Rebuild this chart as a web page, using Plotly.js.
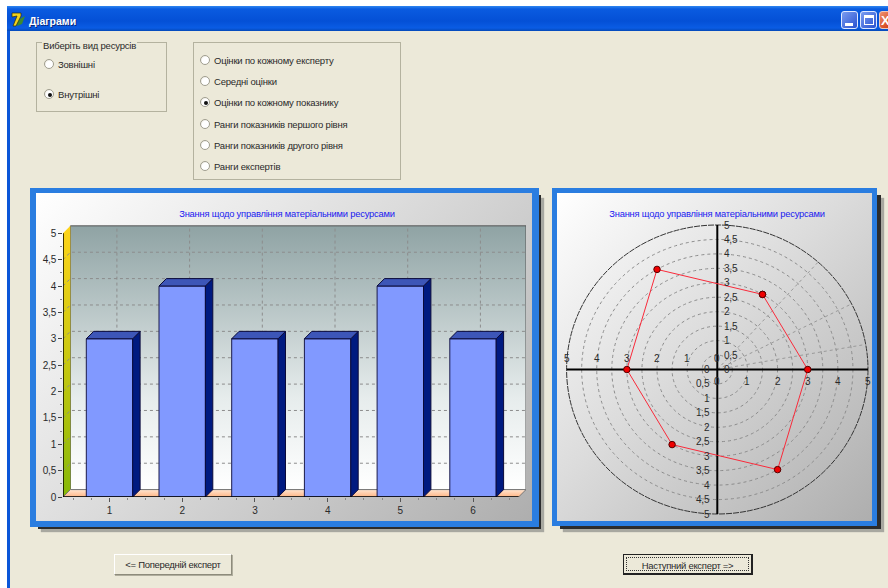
<!DOCTYPE html>
<html lang="uk">
<head>
<meta charset="utf-8">
<title>Діаграми</title>
<script src="https://cdn.plot.ly/plotly-3.0.1.min.js"></script>
<style>
  html, body { margin: 0; padding: 0; width: 888px; height: 588px; overflow: hidden; background: #fff;
               font-family: "Liberation Sans", Arial, sans-serif; font-size: 9.5px; letter-spacing: -0.2px; color: #2a2a2a; }
  .abs { position: absolute; box-sizing: border-box; }
  #win { left: 7px; top: 6px; width: 881px; height: 582px; background: #0a56d8; }
  #client { left: 10px; top: 31px; width: 878px; height: 557px; background: #ece9d9; }
  #bar { left: 7px; top: 6px; width: 881px; height: 25px;
         background: linear-gradient(#2f86f0 0, #0a5be0 12%, #0450d6 60%, #0a5ce4 88%, #0448b8 100%); }
  #caption { left: 29px; top: 15px; color: #fff; font-weight: bold; font-size: 10.5px; letter-spacing: 0; text-shadow: 1px 1px 0 #0a2a80; }
  #logo { left: 11px; top: 12px; }
  .cap { width: 17px; height: 18px; top: 11px; border: 1px solid #dfe8ff; border-radius: 3px;
         background: linear-gradient(135deg, #7a9cf0, #2a52d0); }
  .group { border: 1px solid #b4b29f; background: #ece9d9; }
  .legend { background: #ece9d9; padding: 0 1px; line-height: 11px; white-space: nowrap; }
  .radio { width: 10px; height: 10px; border-radius: 50%; border: 1px solid #a09e90;
           background: radial-gradient(circle at 65% 65%, #fff 55%, #dcd8c8); }
  .radio.on::after { content: ""; position: absolute; left: 2.5px; top: 2.5px; width: 4px; height: 4px;
                     border-radius: 50%; background: #111; }
  .rlabel { white-space: nowrap; line-height: 12px; }
  .shadow { background: #2c2c2c; box-shadow: 3px 3px 1px #a8a8a0; }
  .frame { background: #2a7de0; }
  .face { background: linear-gradient(135deg, #ffffff 0%, #dcdcdc 45%, #aeaeae 100%); }
  .plot { position: absolute; }
  .btn { height: 21px; text-align: center; line-height: 20px; background: #ece9d9; white-space: nowrap; letter-spacing: -0.3px;
         border: 1px solid #fff; border-right-color: #8d8b7c; border-bottom-color: #8d8b7c;
         box-shadow: 1px 1px 0 #b0ae9e; }
  .btn.focus { border: 1px solid #222; border-right-width: 2px; border-bottom-width: 2px; box-shadow: none; }
  .btn.focus span { position: absolute; inset: 2px; line-height: 15px; border: 1px dotted #333; }
</style>
</head>
<body>
<div id="win" class="abs"></div>
<div id="bar" class="abs"></div>
<svg id="logo" class="abs" width="16" height="16" viewBox="0 0 16 16">
  <polygon points="7,8 14,4 11,12 6,14" fill="#3c8a30"/>
  <polygon points="1,1 10,1 10,4 5,14 2,14 6,4 1,5" fill="#f2d21c" stroke="#2a2a10" stroke-width="0.7"/>
</svg>
<div id="caption" class="abs">Діаграми</div>
<div class="abs cap" style="left:841px"></div>
<div class="abs" style="left:845px;top:23px;width:8px;height:3px;background:#fff"></div>
<div class="abs cap" style="left:860px"></div>
<div class="abs" style="left:864px;top:15px;width:10px;height:10px;border:1px solid #fff;border-top-width:3px"></div>
<div class="abs cap" style="left:879px;width:12px;border-color:#f0c8b8;background:linear-gradient(135deg,#f09070,#d03c10)"></div>
<div class="abs" style="left:881px;top:14px;color:#fff;font-size:13px;font-weight:bold;line-height:13px">X</div>
<div id="client" class="abs"></div>
<div id="ui"></div>

<div class="abs shadow" style="left:38px;top:195px;width:503px;height:334px"></div>
<div class="abs frame" style="left:30px;top:188px;width:509px;height:339px"></div>
<div class="abs face" style="left:36px;top:193px;width:496px;height:328px"></div>
<div id="barChart" class="plot" style="left:36px;top:193px;width:496px;height:328px"></div>

<div class="abs shadow" style="left:560px;top:195px;width:321px;height:334px"></div>
<div class="abs frame" style="left:552px;top:188px;width:325px;height:338px"></div>
<div class="abs face" style="left:557px;top:193px;width:315px;height:328px"></div>
<div id="polarChart" class="plot" style="left:557px;top:193px;width:315px;height:328px"></div>

<script>
// Form contents
const resourceOptions = ['Зовнішні', 'Внутрішні'];
const resourceRows = [64, 94];
const resourceChecked = 1;
const viewOptions = ['Оцінки по кожному експерту', 'Середні оцінки', 'Оцінки по кожному показнику',
                     'Ранги показників першого рівня', 'Ранги показників другого рівня', 'Ранги експертів'];
const viewRows = [60, 81, 102, 124, 145, 166];
const viewChecked = 2;

// Chart data
const chartTitle = 'Знання щодо управління матеріальними ресурсами';
const categories = [1, 2, 3, 4, 5, 6];
const scores = [3, 4, 3, 3, 4, 3];
const spokeAngles = [60, 120, 180, 240, 300, 360];
const scaleValues = [0, 0.5, 1, 1.5, 2, 2.5, 3, 3.5, 4, 4.5, 5];
const scaleLabels = ['0', '0,5', '1', '1,5', '2', '2,5', '3', '3,5', '4', '4,5', '5'];
const radialValues = [0, 1, 2, 3, 4, 5];
const gridAngles = [10, 27, 48];

const FONT = 'Liberation Sans, Arial, sans-serif';
const ink = '#2a2a2a';

// --- Window controls ---
const ui = document.getElementById('ui');
function add(cls, style, text) {
  const el = document.createElement('div');
  el.className = 'abs ' + cls;
  el.style.cssText = style;
  if (text !== undefined) el.textContent = text;
  ui.appendChild(el);
  return el;
}
add('group', 'left:36px;top:42px;width:131px;height:70px');
add('legend', 'left:42px;top:40px', 'Виберіть вид ресурсів');
add('group', 'left:193px;top:42px;width:208px;height:138px');
function radios(labels, rows, checked, rx, tx) {
  labels.forEach((label, i) => {
    add('radio' + (i === checked ? ' on' : ''), `left:${rx}px;top:${rows[i] - 5}px`);
    add('rlabel', `left:${tx}px;top:${rows[i] - 5}px`, label);
  });
}
radios(resourceOptions, resourceRows, resourceChecked, 44, 58);
radios(viewOptions, viewRows, viewChecked, 200, 214);
add('btn', 'left:114px;top:554px;width:118px', '<= Попередній експерт');
const next = add('btn focus', 'left:623px;top:554px;width:130px');
next.appendChild(document.createElement('span')).textContent = 'Наступний експерт =>';

// --- Bar chart with a box-style back wall ---
const PITCH = 72.7, UNIT = 52.75, AXIS_X = 63, CENTER_X = 109.5;
const plotW = 463, plotH = 272;
const xLo = 1 - (CENTER_X - AXIS_X) / PITCH;
const xHi = xLo + plotW / PITCH;
const yTop = plotH / UNIT;
const depthX = 7.4 / PITCH, depthY = 7.4 / UNIT;
const barWidth = 46.4 / PITCH;
const yMax = scaleValues[scaleValues.length - 1];

function poly(xs, ys, extra, axes) {
  return Object.assign({ type: 'scatter', mode: 'lines', x: xs.concat(xs[0]), y: ys.concat(ys[0]),
    fill: 'toself', line: { width: 0 }, hoverinfo: 'skip', cliponaxis: false }, axes || {}, extra);
}
const over = { xaxis: 'x2', yaxis: 'y2' };

const wallBack = poly([xLo + depthX, xHi, xHi, xLo + depthX], [depthY, depthY, yMax + depthY, yMax + depthY], {
  fillgradient: { type: 'vertical', colorscale: [[0, '#ffffff'], [0.35, '#e6ecec'], [1, '#8fa3a4']] },
  line: { width: 1, color: '#555' }
});
const wallLeft = poly([xLo, xLo + depthX, xLo + depthX, xLo], [0, depthY, yMax + depthY, yMax], {
  fillgradient: { type: 'vertical', colorscale: [[0, '#86b808'], [0.5, '#c8c810'], [1, '#ffd41a']] }
});
const floor = poly([xLo, xHi - depthX, xHi, xLo + depthX], [0, 0, depthY, depthY], {
  fillgradient: { type: 'vertical', colorscale: [[0, '#ffb584'], [1, '#ffe6d2']] },
  line: { width: 1, color: '#777' }
});

const gridX = [], gridY = [];
scaleValues.filter(v => v > 0 && v < yMax).forEach(v => {
  gridX.push(xLo, xLo + depthX, xHi, null);
  gridY.push(v, v + depthY, v + depthY, null);
});
categories.forEach(c => {
  gridX.push(c + depthX, c + depthX, null);
  gridY.push(depthY, yMax + depthY, null);
});
const wallGrid = { type: 'scatter', mode: 'lines', x: gridX, y: gridY, hoverinfo: 'skip',
  line: { color: '#8c8c8c', width: 1, dash: '3px,3px' } };

const barFronts = { type: 'bar', x: categories, y: scores, width: barWidth, xaxis: 'x2', yaxis: 'y2',
  marker: { color: '#8199ff', line: { color: '#1a1a4a', width: 1 } }, hoverinfo: 'skip' };

const barSides = categories.map((c, i) => poly(
  [c + barWidth / 2, c + barWidth / 2 + depthX, c + barWidth / 2 + depthX, c + barWidth / 2],
  [0, depthY, scores[i] + depthY, scores[i]],
  { fillcolor: '#001a80', line: { color: '#0a0a3a', width: 1 } }, over));
const barTops = categories.map((c, i) => poly(
  [c - barWidth / 2, c - barWidth / 2 + depthX, c + barWidth / 2 + depthX, c + barWidth / 2],
  [scores[i], scores[i] + depthY, scores[i] + depthY, scores[i]],
  { fillcolor: '#3d56b8', line: { color: '#0a0a3a', width: 1 } }, over));

const axisFrame = { type: 'scatter', mode: 'lines', x: [xLo, xLo, null, xLo, xHi - depthX], y: [0, yMax, null, 0, 0],
  line: { color: '#000', width: 1.5 }, hoverinfo: 'skip', cliponaxis: false, xaxis: 'x2', yaxis: 'y2' };

const xMinor = [];
for (let v = 0.5; v <= categories[categories.length - 1] + 0.5; v += 0.25) xMinor.push(v);
const yMinor = [];
for (let v = 0; v <= yMax; v += 0.25) yMinor.push(v);

Plotly.newPlot('barChart',
  [wallBack, wallLeft, floor, wallGrid, barFronts, ...barSides, ...barTops, axisFrame],
  {
    width: 496, height: 328, showlegend: false,
    paper_bgcolor: 'rgba(0,0,0,0)', plot_bgcolor: 'rgba(0,0,0,0)',
    margin: { l: 27, r: 6, t: 32, b: 24, pad: 0 },
    font: { family: FONT, size: 10, color: ink },
    title: { text: chartTitle, font: { family: FONT, size: 9.35, color: '#2020f0' },
             xref: 'container', yref: 'container', x: 0.506, y: 0.936, xanchor: 'center', yanchor: 'middle' },
    xaxis: { range: [xLo, xHi], tickmode: 'array', tickvals: categories, ticktext: categories.map(String),
             ticks: 'outside', ticklen: 4, tickcolor: '#555', showgrid: false, zeroline: false, showline: false,
             tickfont: { family: FONT, size: 10, color: ink },
             minor: { tickmode: 'array', tickvals: xMinor, ticks: 'outside', ticklen: 2, tickcolor: '#888', showgrid: false } },
    yaxis: { range: [0, yTop], tickmode: 'array', tickvals: scaleValues, ticktext: scaleLabels,
             ticks: 'outside', ticklen: 4, tickcolor: '#444', showgrid: false, zeroline: false, showline: false,
             tickfont: { family: FONT, size: 10, color: ink },
             minor: { tickmode: 'array', tickvals: yMinor, ticks: 'outside', ticklen: 2, tickcolor: '#888', showgrid: false } },
    xaxis2: { overlaying: 'x', anchor: 'y2', range: [xLo, xHi], visible: false },
    yaxis2: { overlaying: 'y', anchor: 'x2', range: [0, yTop], visible: false }
  },
  { staticPlot: true, displayModeBar: false });

// --- Polar diagram: score along the angle, on an x/y plane ---
const rad = d => d * Math.PI / 180;
const PX_X = 30.14, PX_Y = 28.9, FACE_W = 315, FACE_H = 328, ORIGIN_X = 160.3, ORIGIN_Y = 176.5;
const polarX = scores.map((r, i) => r * Math.cos(rad(spokeAngles[i])));
const polarY = scores.map((r, i) => r * Math.sin(rad(spokeAngles[i])));

const ringShapes = scaleValues.filter(v => v > 0).map(v => ({
  type: 'circle', xref: 'x', yref: 'y', x0: -v, x1: v, y0: -v, y1: v, layer: 'below',
  line: v === yMax ? { color: '#333', width: 1, dash: '6px,1px' } : { color: '#8c8c8c', width: 1, dash: '3px,3px' }
}));
const spokeShapes = gridAngles.map(a => ({
  type: 'line', xref: 'x', yref: 'y', x0: 0, y0: 0, x1: yMax * Math.cos(rad(a)), y1: yMax * Math.sin(rad(a)),
  layer: 'below', line: { color: '#9a9a9a', width: 1, dash: '3px,3px' }
}));

const crossAxes = { type: 'scatter', mode: 'lines', x: [-yMax, yMax, null, 0, 0], y: [0, 0, null, -yMax, yMax],
  line: { color: '#000', width: 2 }, hoverinfo: 'skip' };
const scoreOutline = { type: 'scatter', mode: 'lines+markers',
  x: polarX.concat(polarX[0]), y: polarY.concat(polarY[0]),
  line: { color: '#fa2a3a', width: 1 },
  marker: { color: '#f00000', size: 6.5, line: { color: '#500', width: 1 } }, hoverinfo: 'skip' };

const labelNote = (x, y, text, xshift, yshift, xanchor) => ({
  x, y, text, xshift, yshift, xanchor, yanchor: 'middle', showarrow: false, xref: 'x', yref: 'y',
  font: { family: FONT, size: 10, color: ink }
});
const axisNotes = [
  ...radialValues.map(v => labelNote(v, 0, String(v), 0, -12, 'center')),
  ...radialValues.map(v => labelNote(-v, 0, String(v), 0, 11, 'center')),
  ...scaleValues.map((v, i) => labelNote(0, v, scaleLabels[i], 5, 0, 'left')),
  ...scaleValues.map((v, i) => labelNote(0, -v, scaleLabels[i], -5, 0, 'right'))
];

Plotly.newPlot('polarChart', [crossAxes, scoreOutline], {
  width: FACE_W, height: FACE_H, showlegend: false,
  paper_bgcolor: 'rgba(0,0,0,0)', plot_bgcolor: 'rgba(0,0,0,0)',
  margin: { l: 0, r: 0, t: 0, b: 0, pad: 0 },
  font: { family: FONT, size: 10, color: ink },
  title: { text: chartTitle, font: { family: FONT, size: 9.35, color: '#2020f0' },
           xref: 'container', yref: 'container', x: 0.508, y: 0.936, xanchor: 'center', yanchor: 'middle' },
  xaxis: { range: [-ORIGIN_X / PX_X, (FACE_W - ORIGIN_X) / PX_X], visible: false, fixedrange: true },
  yaxis: { range: [-(FACE_H - ORIGIN_Y) / PX_Y, ORIGIN_Y / PX_Y], visible: false, fixedrange: true },
  shapes: [...ringShapes, ...spokeShapes],
  annotations: axisNotes
}, { staticPlot: true, displayModeBar: false });
</script>
</body>
</html>
